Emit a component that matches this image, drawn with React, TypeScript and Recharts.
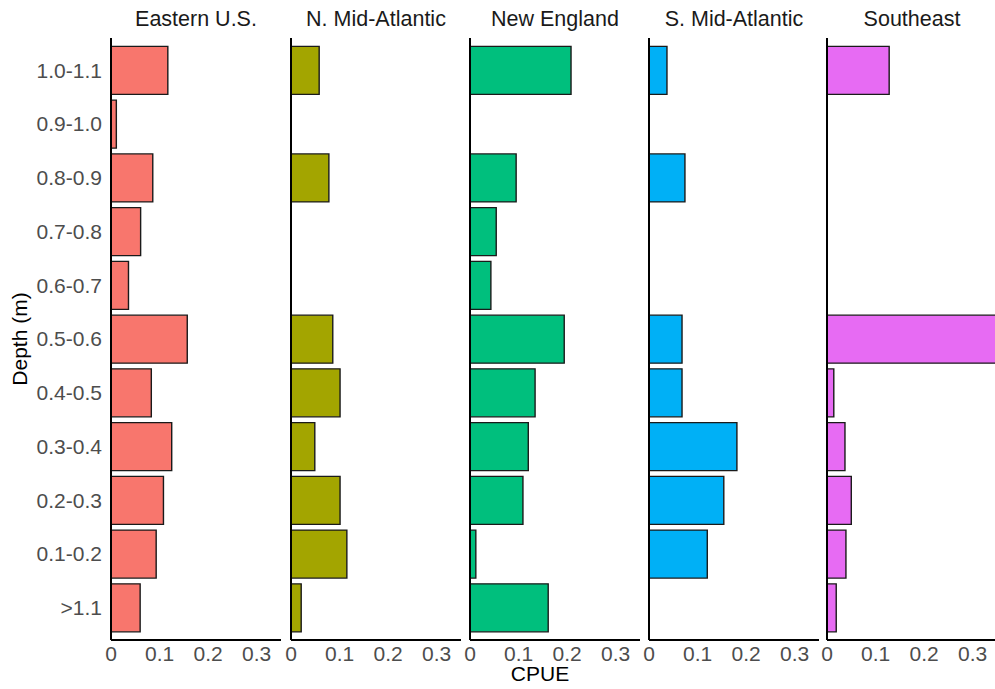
import React from 'react';
import { BarChart, Bar, XAxis, YAxis } from 'recharts';

const categories = ['1.0-1.1', '0.9-1.0', '0.8-0.9', '0.7-0.8', '0.6-0.7', '0.5-0.6', '0.4-0.5', '0.3-0.4', '0.2-0.3', '0.1-0.2', '>1.1'];
const easternUS = [0.117, 0.011, 0.086, 0.061, 0.036, 0.157, 0.083, 0.125, 0.108, 0.093, 0.06];
const nMidAtlantic = [0.058, null, 0.078, null, null, 0.086, 0.101, 0.049, 0.101, 0.115, 0.021];
const newEngland = [0.208, null, 0.095, 0.054, 0.043, 0.194, 0.134, 0.12, 0.109, 0.012, 0.161];
const sMidAtlantic = [0.037, null, 0.074, null, null, 0.068, 0.068, 0.181, 0.154, 0.12, null];
const southeast = [0.128, null, null, null, null, 0.4, 0.014, 0.037, 0.05, 0.039, 0.019];

const regions = ['Eastern U.S.', 'N. Mid-Atlantic', 'New England', 'S. Mid-Atlantic', 'Southeast'];
const seriesList = [easternUS, nMidAtlantic, newEngland, sMidAtlantic, southeast];
const colors = ['#F8766D', '#A3A500', '#00BF7D', '#00B0F6', '#E76BF3'];
const xTicks = [0, 0.1, 0.2, 0.3];

const panelLeft = [111, 291, 470, 649, 827];
const PANEL_W = 170;
const PLOT_TOP = 38;
const PLOT_BOTTOM = 640;
const H = 689;
const FONT = '"Liberation Sans", Arial, sans-serif';

function Panel({ idx }: { idx: number }) {
  const vals = seriesList[idx];
  const data = categories.map((c, i) => ({ cat: c, v: vals[i] }));
  const first = idx === 0;
  const yW = first ? panelLeft[0] : 12;
  const left = panelLeft[idx] - yW;
  const width = PANEL_W + yW;
  return (
    <div style={{ position: 'absolute', left, top: 0, width, height: H }}>
      <BarChart
        width={width}
        height={H}
        data={data}
        layout="vertical"
        margin={{ top: PLOT_TOP, right: 0, left: 0, bottom: H - PLOT_BOTTOM - 30 }}
        barSize={48}
      >
        <XAxis
          type="number"
          dataKey="v"
          domain={[0, 0.35]}
          ticks={xTicks}
          interval={0}
          allowDataOverflow
          height={30}
          tickLine={false}
          tickSize={4}
          tickMargin={2}
          axisLine={{ stroke: '#000', strokeWidth: 2 }}
          tick={{ fill: '#4d4d4d', fontSize: 21, fontFamily: FONT }}
          tickFormatter={(t: number) => (t === 0 ? '0' : String(t))}
        />
        <YAxis
          type="category"
          dataKey="cat"
          width={yW}
          padding={{ top: 5.4, bottom: 5.4 }}
          tickLine={false}
          tick={first ? { fill: '#4d4d4d', fontSize: 21, fontFamily: FONT } : false}
          tickSize={6}
          tickMargin={3}
          axisLine={{ stroke: '#000', strokeWidth: 2 }}
          interval={0}
        />
        <Bar dataKey="v" fill={colors[idx]} stroke="#1a1a1a" strokeWidth={1.4} isAnimationActive={false} />
      </BarChart>
    </div>
  );
}

export default function App() {
  return (
    <div style={{ position: 'absolute', left: 0, top: 0, width: 995, height: H, background: '#fff', overflow: 'hidden', fontFamily: FONT }}>
      {regions.map((r, i) => (
        <div
          key={r}
          style={{
            position: 'absolute',
            left: panelLeft[i] - 20,
            width: PANEL_W + 40,
            top: 7,
            textAlign: 'center',
            fontSize: 21.5,
            color: '#1a1a1a',
            whiteSpace: 'nowrap',
          }}
        >
          {r}
        </div>
      ))}
      {regions.map((r, i) => (
        <Panel key={r} idx={i} />
      ))}
      <div
        style={{
          position: 'absolute',
          left: 20 - 100,
          width: 200,
          top: 339 - 12,
          height: 24,
          lineHeight: '24px',
          textAlign: 'center',
          fontSize: 21,
          color: '#000',
          transform: 'rotate(-90deg)',
        }}
      >
        Depth (m)
      </div>
      <div
        style={{
          position: 'absolute',
          left: 440,
          width: 200,
          top: 662,
          textAlign: 'center',
          fontSize: 21,
          color: '#000',
        }}
      >
        CPUE
      </div>
    </div>
  );
}
